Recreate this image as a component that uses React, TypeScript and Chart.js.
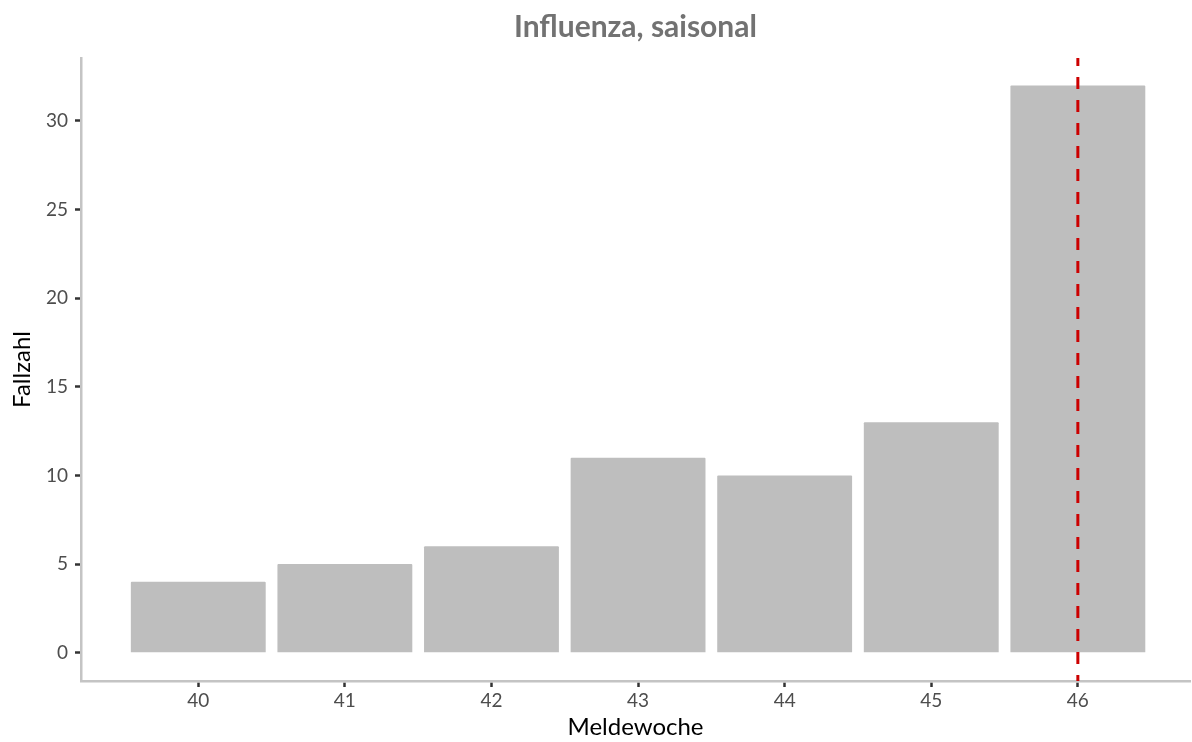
import React, { useEffect, useRef } from "react";
import { Chart, registerables } from "chart.js";

Chart.register(...registerables);

const chartTitle = "Influenza, saisonal";
const xTitle = "Meldewoche";
const yTitle = "Fallzahl";
const weeks = [40, 41, 42, 43, 44, 45, 46];
const cases = [4, 5, 6, 11, 10, 13, 32];
const yTicks = [0, 5, 10, 15, 20, 25, 30];
const markerWeek = 46;

const X_MIN = 39.2;
const X_MAX = 46.765;
const Y_MIN = -1.6;
const Y_MAX = 33.55;

const FONT = "Lato, 'DejaVu Sans', sans-serif";

export default function App() {
  const ref = useRef<HTMLCanvasElement | null>(null);

  useEffect(() => {
    if (!ref.current) return;

    const titlePlugin = {
      id: "panelTitle",
      afterDraw(chart: any) {
        const { ctx, chartArea } = chart;
        ctx.save();
        ctx.font = `bold 30px ${FONT}`;
        ctx.fillStyle = "#727272";
        ctx.textAlign = "center";
        ctx.textBaseline = "middle";
        ctx.fillText(chartTitle, (chartArea.left + chartArea.right) / 2, 27);
        ctx.restore();
      },
    };

    const markerPlugin = {
      id: "marker",
      afterDatasetsDraw(chart: any) {
        const { ctx, chartArea, scales } = chart;
        const x = scales.x.getPixelForValue(markerWeek);
        ctx.save();
        ctx.strokeStyle = "#CC0000";
        ctx.lineWidth = 3;
        ctx.setLineDash([12, 11]);
        ctx.lineDashOffset = 6;
        ctx.beginPath();
        ctx.moveTo(x, chartArea.bottom);
        ctx.lineTo(x, chartArea.top);
        ctx.stroke();
        ctx.restore();
      },
    };

    const chart = new Chart(ref.current, {
      type: "bar",
      data: {
        datasets: [
          {
            data: weeks.map((w, i) => ({ x: w, y: cases[i] })),
            backgroundColor: "#BEBEBE",
            borderWidth: 0,
            borderRadius: 1,
            categoryPercentage: 1,
            barPercentage: 0.92,
          },
        ],
      },
      options: {
        animation: false,
        responsive: false,
        layout: { padding: { top: 58, right: 2, left: 0, bottom: 0 } },
        plugins: {
          legend: { display: false },
          title: { display: false },
          tooltip: { enabled: false },
        },
        scales: {
          x: {
            type: "linear",
            min: X_MIN,
            max: X_MAX,
            offset: false,
            afterBuildTicks: (scale: any) => {
              scale.ticks = weeks.map((v) => ({ value: v }));
            },
            afterFit: (scale: any) => {
              scale.height = 61;
            },
            grid: {
              offset: false,
              drawOnChartArea: false,
              tickLength: 6,
              tickWidth: 2.5,
              tickColor: "#333333",
            },
            border: { color: "#C4C4C4", width: 2.5 },
            ticks: {
              color: "#4D4D4D",
              font: { family: FONT, size: 19 },
              padding: 2,
              maxRotation: 0,
              callback: (v: any) => String(v),
            },
            title: {
              display: true,
              text: xTitle,
              color: "#000000",
              font: { family: FONT, size: 24 },
              padding: { top: 0, bottom: 0 },
            },
          },
          y: {
            type: "linear",
            min: Y_MIN,
            max: Y_MAX,
            afterBuildTicks: (scale: any) => {
              scale.ticks = yTicks.map((v) => ({ value: v }));
            },
            afterFit: (scale: any) => {
              scale.width = 81;
            },
            grid: {
              drawOnChartArea: false,
              tickLength: 6,
              tickWidth: 2.5,
              tickColor: "#333333",
            },
            border: { color: "#C4C4C4", width: 2.5 },
            ticks: {
              color: "#4D4D4D",
              font: { family: FONT, size: 19 },
              padding: 7,
              callback: (v: any) => String(v),
            },
            title: {
              display: true,
              text: yTitle,
              color: "#000000",
              font: { family: FONT, size: 24 },
              padding: { top: 8, bottom: 0 },
            },
          },
        },
      },
      plugins: [titlePlugin, markerPlugin],
    });

    return () => chart.destroy();
  }, []);

  return (
    <div style={{ position: "fixed", left: 0, top: 0, width: 1192, height: 742, background: "#ffffff" }}>
      <canvas ref={ref} width={1192} height={742} />
    </div>
  );
}
